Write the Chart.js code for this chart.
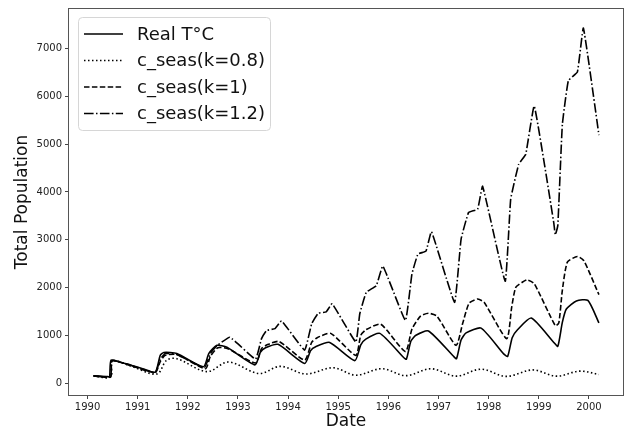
<!DOCTYPE html>
<html>
<head>
<meta charset="utf-8">
<script src="https://cdn.jsdelivr.net/npm/chart.js@4/dist/chart.umd.min.js"></script>
<style>
  body { margin: 0; background: #fff; }
  canvas { display: block; }
</style>
</head>
<body>
<canvas id="chart" width="629" height="433"></canvas>
<script>
// values (x = decimal year)
const seriesLabels = ['Real T°C', 'c_seas(k=0.8)', 'c_seas(k=1)', 'c_seas(k=1.2)'];

const realX = [1990.12, 1990.40, 1990.44, 1990.47, 1990.70, 1990.85, 1991.10, 1991.35, 1991.45, 1991.52, 1991.78,
  1992.31, 1992.42, 1992.58, 1992.78, 1993.34, 1993.45, 1993.55, 1993.80, 1994.33, 1994.45, 1994.55, 1994.83,
  1995.33, 1995.45, 1995.55, 1995.83, 1996.30, 1996.36, 1996.45, 1996.55, 1996.80, 1997.30, 1997.36, 1997.45,
  1997.55, 1997.85, 1998.30, 1998.38, 1998.47, 1998.58, 1998.85, 1999.30, 1999.38, 1999.47, 1999.55, 1999.75,
  1999.98, 2000.20];
const realY = [150, 135, 125, 480, 420, 380, 300, 230, 580, 640, 620,
  340, 620, 790, 750, 380, 650, 740, 810, 410, 680, 760, 850,
  470, 800, 920, 1040, 540, 500, 880, 1000, 1090, 560, 510, 900,
  1050, 1150, 610, 560, 950, 1120, 1360, 850, 770, 1270, 1550, 1720,
  1730, 1260];

const k08X = [1990.12, 1990.46, 1990.49, 1990.85, 1991.38, 1991.58, 1991.78, 1992.38, 1992.81, 1993.42, 1993.85,
  1994.35, 1994.90, 1995.35, 1995.87, 1996.35, 1996.85, 1997.35, 1997.85, 1998.35, 1998.88, 1999.35, 1999.82, 2000.20];
const k08Y = [150, 130, 460, 360, 190, 480, 510, 240, 440, 200, 350,
  190, 320, 165, 300, 155, 300, 145, 290, 140, 275, 145, 250, 180];

const k1X = [1990.12, 1990.46, 1990.49, 1990.85, 1991.35, 1991.45, 1991.55, 1991.78, 1992.35, 1992.45, 1992.60,
  1992.80, 1993.35, 1993.47, 1993.58, 1993.82, 1994.33, 1994.47, 1994.58, 1994.85, 1995.35, 1995.45, 1995.56,
  1995.85, 1996.34, 1996.47, 1996.64, 1996.80, 1996.97, 1997.35, 1997.48, 1997.61, 1997.78, 1997.91, 1998.36,
  1998.46, 1998.54, 1998.67, 1998.77, 1998.91, 1999.33, 1999.40, 1999.47, 1999.57, 1999.77, 1999.90, 2000.20];
const k1Y = [150, 130, 470, 370, 220, 450, 580, 600, 300, 560, 740,
  720, 420, 720, 800, 870, 480, 850, 950, 1040, 580, 1000, 1120,
  1230, 660, 1130, 1400, 1460, 1400, 790, 1240, 1670, 1760, 1690, 930,
  1590, 2000, 2110, 2160, 2080, 1200, 1260, 1940, 2530, 2650, 2560, 1850];

const k12X = [1990.12, 1990.46, 1990.49, 1990.85, 1991.35, 1991.45, 1991.55, 1991.78, 1992.33, 1992.45, 1992.58,
  1992.84, 1993.35, 1993.47, 1993.57, 1993.74, 1993.87, 1994.33, 1994.47, 1994.60, 1994.76, 1994.88, 1995.35,
  1995.43, 1995.56, 1995.76, 1995.89, 1996.34, 1996.47, 1996.59, 1996.75, 1996.86, 1997.32, 1997.45, 1997.60,
  1997.78, 1997.88, 1998.33, 1998.44, 1998.60, 1998.74, 1998.91, 1999.30, 1999.33, 1999.38, 1999.47, 1999.59,
  1999.77, 1999.89, 2000.20];
const k12Y = [150, 130, 470, 380, 210, 500, 620, 600, 320, 620, 780,
  960, 500, 930, 1100, 1140, 1300, 690, 1240, 1460, 1490, 1660, 860,
  1450, 1900, 2040, 2450, 1310, 2280, 2700, 2760, 3170, 1690, 3010, 3570,
  3640, 4120, 2130, 3850, 4580, 4790, 5800, 3350, 3100, 3300, 5410, 6330,
  6510, 7430, 5190];

const xTicks = [1990, 1991, 1992, 1993, 1994, 1995, 1996, 1997, 1998, 1999, 2000];
const yTicks = [0, 1000, 2000, 3000, 4000, 5000, 6000, 7000];

const FONT = "'DejaVu Sans', sans-serif";

function pts(xs, ys) {
    return xs.map((x, i) => ({x: x, y: ys[i]}));
}

const datasets = [
    {label: seriesLabels[0], data: pts(realX, realY), borderDash: [], tension: 0.2},
    {label: seriesLabels[1], data: pts(k08X, k08Y), borderDash: [1.5, 2.5], tension: 0.35},
    {label: seriesLabels[2], data: pts(k1X, k1Y), borderDash: [5.5, 2.4], tension: 0.2},
    {label: seriesLabels[3], data: pts(k12X, k12Y), borderDash: [9.6, 2.4, 1.5, 2.4], tension: 0.1}
].map(d => Object.assign(d, {
    borderColor: '#000',
    borderWidth: 1.6,
    pointRadius: 0,
    fill: false
}));

// frame on all four sides + legend box inside the plot, like matplotlib
const framePlugin = {
    id: 'frame',
    afterDraw(chart) {
        const {ctx, chartArea: a} = chart;
        ctx.save();
        ctx.strokeStyle = '#555';
        ctx.lineWidth = 1;
        ctx.setLineDash([]);
        ctx.strokeRect(Math.round(a.left) - 0.5, Math.round(a.top) - 0.5,
            Math.round(a.right - a.left) + 1, Math.round(a.bottom - a.top) + 1);

        // legend
        const bx = a.left + 9, by = a.top + 8, bw = 192, bh = 113;
        ctx.beginPath();
        ctx.roundRect(bx + 0.5, by + 0.5, bw, bh, 4);
        ctx.fillStyle = 'rgba(255,255,255,0.8)';
        ctx.fill();
        ctx.strokeStyle = '#d6d6d6';
        ctx.stroke();

        ctx.font = '18px ' + FONT;
        ctx.textBaseline = 'middle';
        ctx.fillStyle = '#111';
        chart.data.datasets.forEach((ds, i) => {
            const y = by + 17 + i * 26.5;
            ctx.beginPath();
            ctx.setLineDash(ds.borderDash);
            ctx.strokeStyle = '#000';
            ctx.lineWidth = 1.5;
            ctx.moveTo(bx + 6, y);
            ctx.lineTo(bx + 45, y);
            ctx.stroke();
            ctx.setLineDash([]);
            ctx.fillText(ds.label, bx + 59, y + 1);
        });
        ctx.restore();
    }
};

const ctx = document.getElementById('chart').getContext('2d');
new Chart(ctx, {
    type: 'line',
    data: {datasets: datasets},
    options: {
        responsive: false,
        animation: false,
        devicePixelRatio: 1,
        layout: {padding: {top: 7, right: 6, bottom: 0, left: 0}},
        plugins: {
            legend: {display: false},
            tooltip: {enabled: false}
        },
        scales: {
            x: {
                type: 'linear',
                min: 1989.63,
                max: 2000.68,
                afterBuildTicks: (s) => { s.ticks = xTicks.map(v => ({value: v})); },
                afterFit: (s) => { s.height = 38; },
                ticks: {
                    callback: (v) => String(v),
                    color: '#222',
                    font: {family: FONT, size: 10},
                    padding: 2,
                    maxRotation: 0,
                    autoSkip: false
                },
                grid: {drawOnChartArea: false, drawTicks: true, tickLength: 4, color: '#444'},
                border: {display: false},
                title: {
                    display: true,
                    text: 'Date',
                    color: '#111',
                    font: {family: FONT, size: 17},
                    padding: {top: 0, bottom: 1}
                }
            },
            y: {
                type: 'linear',
                min: -250,
                max: 7830,
                afterBuildTicks: (s) => { s.ticks = yTicks.map(v => ({value: v})); },
                afterFit: (s) => { s.width = 69; },
                ticks: {
                    callback: (v) => String(v),
                    color: '#222',
                    font: {family: FONT, size: 10},
                    padding: 3,
                    autoSkip: false
                },
                grid: {drawOnChartArea: false, drawTicks: true, tickLength: 4, color: '#444'},
                border: {display: false},
                title: {
                    display: true,
                    text: 'Total Population',
                    color: '#111',
                    font: {family: FONT, size: 17},
                    padding: {top: 12, bottom: 0}
                }
            }
        }
    },
    plugins: [framePlugin]
});
</script>
</body>
</html>
